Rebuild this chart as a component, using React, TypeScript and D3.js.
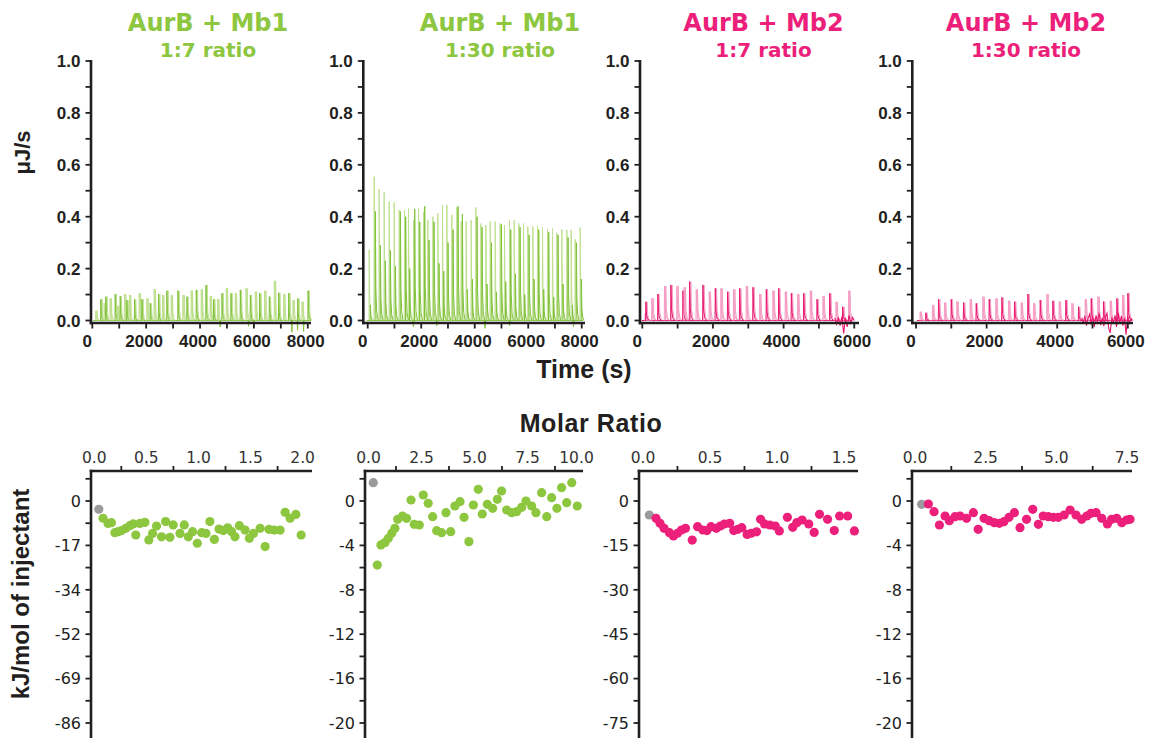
import React from 'react';
import * as d3 from 'd3';

// ---------------- colours ----------------
const GREEN = '#8dc63f';
const GREEN_LIGHT = '#bfe08f';
const GREEN_DARK = '#80c23a';
const PINK = '#ec1f7b';
const PINK_LIGHT = '#f59cc3';
const PINK_DARK = '#e8176f';
const GRAY = '#9a9a9c';
const INK = '#231f20';

// ---------------- titles ----------------
const panelTitles = ['AurB + Mb1', 'AurB + Mb1', 'AurB + Mb2', 'AurB + Mb2'];
const panelRatios = ['1:7 ratio', '1:30 ratio', '1:7 ratio', '1:30 ratio'];

// ---------------- top row: thermograms (time s, µJ/s) ----------------
const mb1r7Times = [125, 311, 435, 497, 658, 844, 930, 1030, 1190, 1277, 1376, 1562, 1736, 1835, 2021, 2145, 2293, 2454, 2603, 2764, 2925, 3173, 3359, 3508, 3669, 3855, 4040, 4214, 4375, 4499, 4648, 4809, 4970, 5143, 5304, 5490, 5701, 5862, 6048, 6209, 6394, 6568, 6754, 6915, 7101, 7287, 7448, 7621, 7782, 8005];
const mb1r7Peaks = [0.038, 0.082, 0.066, 0.092, 0.085, 0.102, 0.056, 0.094, 0.102, 0.079, 0.098, 0.082, 0.105, 0.082, 0.085, 0.066, 0.120, 0.102, 0.098, 0.115, 0.098, 0.115, 0.098, 0.092, 0.115, 0.118, 0.120, 0.137, 0.094, 0.082, 0.082, 0.105, 0.124, 0.105, 0.105, 0.118, 0.124, 0.098, 0.111, 0.105, 0.115, 0.092, 0.153, 0.107, 0.102, 0.105, 0.079, 0.085, 0.072, 0.115];
const mb1r7DipTimes = [4750, 5800, 5990, 7410, 7620, 7845];
const mb1r7Dips = [-0.025, -0.022, -0.025, -0.045, -0.038, -0.042];

const mb1r30Times = [49, 235, 422, 609, 796, 983, 1170, 1369, 1519, 1706, 1893, 2080, 2242, 2429, 2615, 2790, 2952, 3139, 3326, 3488, 3674, 3861, 4036, 4223, 4410, 4572, 4759, 4945, 5107, 5294, 5469, 5643, 5818, 5980, 6167, 6341, 6528, 6715, 6901, 7064, 7251, 7438, 7600, 7749, 7936];
const mb1r30Peaks = [0.272, 0.554, 0.507, 0.494, 0.458, 0.455, 0.426, 0.426, 0.432, 0.387, 0.432, 0.419, 0.387, 0.400, 0.413, 0.445, 0.445, 0.407, 0.436, 0.383, 0.383, 0.387, 0.436, 0.374, 0.368, 0.383, 0.381, 0.374, 0.368, 0.387, 0.387, 0.374, 0.374, 0.362, 0.362, 0.364, 0.359, 0.351, 0.355, 0.338, 0.351, 0.349, 0.349, 0.313, 0.358];
const mb1r30DarkPeaks = [0.06, 0.42, 0.29, 0.23, 0.27, 0.21, 0.42, 0.40, 0.20, 0.43, 0.38, 0.44, 0.31, 0.38, 0.22, 0.19, 0.30, 0.35, 0.44, 0.41, 0.12, 0.16, 0.40, 0.36, 0.14, 0.30, 0.11, 0.37, 0.15, 0.35, 0.18, 0.36, 0.10, 0.33, 0.16, 0.35, 0.12, 0.34, 0.09, 0.33, 0.14, 0.32, 0.06, 0.30, 0.16];
const mb1r30DipTimes = [1706, 2580, 4385, 5300, 7690];
const mb1r30Dips = [-0.024, -0.02, -0.03, -0.02, -0.024];

const mb2r7Times = [76, 95, 265, 435, 624, 804, 974, 1144, 1181, 1332, 1521, 1710, 1890, 2060, 2220, 2409, 2579, 2749, 2938, 3127, 3316, 3504, 3693, 3854, 4043, 4213, 4392, 4562, 4751, 4940, 5110, 5299, 5478, 5667, 5837];
const mb2r7Peaks = [0.028, 0.072, 0.086, 0.102, 0.133, 0.137, 0.133, 0.115, 0.128, 0.150, 0.120, 0.137, 0.111, 0.124, 0.124, 0.111, 0.120, 0.124, 0.133, 0.128, 0.102, 0.120, 0.115, 0.124, 0.111, 0.105, 0.102, 0.105, 0.115, 0.082, 0.094, 0.105, 0.072, 0.053, 0.115];
const mb2r7NoiseTimes = [5450, 5500, 5550, 5600, 5650, 5700, 5750, 5800, 5850, 5900, 5950, 6000];
const mb2r7Noise = [0.01, -0.015, 0.012, -0.02, 0.015, -0.05, 0.01, -0.025, 0.02, -0.01, 0.012, 0.0];

const mb2r30Times = [113, 274, 463, 633, 803, 992, 1152, 1341, 1530, 1700, 1889, 2068, 2257, 2427, 2616, 2786, 2975, 3164, 3324, 3513, 3702, 3872, 4051, 4240, 4410, 4599, 4788, 4958, 5147, 5307, 5496, 5685, 5845, 5997];
const mb2r30Peaks = [0.034, 0.030, 0.060, 0.082, 0.069, 0.082, 0.073, 0.069, 0.082, 0.066, 0.092, 0.082, 0.085, 0.089, 0.076, 0.073, 0.069, 0.102, 0.066, 0.079, 0.102, 0.076, 0.073, 0.079, 0.066, 0.053, 0.082, 0.085, 0.092, 0.073, 0.076, 0.085, 0.098, 0.105];
const mb2r30NoiseTimes = [4700, 4740, 4780, 4830, 4870, 4920, 4960, 5010, 5050, 5100, 5140, 5190, 5230, 5280, 5320, 5370, 5410, 5460, 5500, 5550, 5590, 5640, 5680, 5730, 5770, 5820, 5860, 5910, 5950, 6000, 6040, 6090, 6130];
const mb2r30Noise = [0.01, -0.012, 0.018, -0.02, 0.008, 0.025, -0.015, 0.012, -0.025, 0.02, -0.008, 0.03, -0.018, 0.01, -0.022, 0.015, 0.028, -0.03, -0.048, 0.012, -0.01, 0.02, -0.025, 0.03, -0.012, 0.018, -0.02, 0.01, -0.055, 0.015, -0.01, 0.008, 0.0];

// ---------------- bottom row: integrated heats (molar ratio, kJ/mol) ----------------
// first point of each series is the discarded (grey) injection
const mb1r7Ratio = [0.034, 0.075, 0.123, 0.155, 0.188, 0.22, 0.252, 0.293, 0.332, 0.364, 0.389, 0.428, 0.476, 0.514, 0.55, 0.588, 0.636, 0.675, 0.716, 0.748, 0.813, 0.854, 0.893, 0.934, 0.979, 1.021, 1.063, 1.10, 1.143, 1.188, 1.229, 1.271, 1.309, 1.341, 1.383, 1.438, 1.479, 1.518, 1.582, 1.63, 1.667, 1.716, 1.774, 1.822, 1.87, 1.925, 1.976];
const mb1r7Heat = [-3.2, -6.7, -8.7, -8.4, -12.3, -11.9, -11.5, -10.6, -9.6, -8.9, -13.2, -8.7, -8.3, -15.1, -12.6, -9.7, -13.9, -8.0, -14.1, -9.3, -12.6, -9.3, -13.9, -11.9, -16.4, -12.3, -12.6, -8.0, -14.9, -10.9, -11.5, -10.4, -11.9, -13.9, -9.6, -11.3, -14.5, -12.6, -10.6, -17.7, -11.0, -11.3, -11.3, -4.4, -6.7, -5.2, -13.2];

const mb1r30Ratio = [0.18, 0.37, 0.54, 0.73, 0.89, 1.05, 1.20, 1.33, 1.56, 1.75, 1.96, 2.11, 2.35, 2.54, 2.77, 2.98, 3.17, 3.40, 3.61, 3.83, 4.03, 4.27, 4.46, 4.69, 4.90, 5.13, 5.32, 5.56, 5.81, 6.03, 6.23, 6.47, 6.71, 6.94, 7.18, 7.38, 7.65, 7.85, 8.12, 8.36, 8.59, 8.84, 9.06, 9.30, 9.54, 9.80];
const mb1r30Heat = [1.65, -5.77, -3.96, -3.75, -3.36, -2.91, -2.46, -1.65, -1.35, -1.56, 0.09, -2.10, -2.16, 0.54, -0.21, -1.41, -2.67, -2.85, -1.05, -2.76, -0.45, -0.06, -1.47, -3.66, -0.36, 1.05, -1.17, -0.30, -0.66, 0.15, 0.90, -0.81, -1.05, -0.96, -0.57, 0.0, -0.45, -1.05, 0.75, -1.41, 0.30, -0.66, 1.20, -0.15, 1.65, -0.45];

const mb2r7Ratio = [0.04, 0.09, 0.12, 0.15, 0.19, 0.22, 0.25, 0.28, 0.31, 0.36, 0.40, 0.44, 0.47, 0.50, 0.54, 0.57, 0.60, 0.64, 0.67, 0.70, 0.73, 0.77, 0.80, 0.84, 0.87, 0.90, 0.94, 0.98, 1.01, 1.07, 1.11, 1.14, 1.18, 1.23, 1.27, 1.31, 1.37, 1.42, 1.46, 1.52, 1.57];
const mb2r7Heat = [-4.73, -5.86, -7.54, -9.23, -10.7, -11.8, -10.9, -9.80, -9.23, -13.2, -8.67, -9.80, -10.0, -8.67, -9.23, -8.45, -7.77, -7.54, -10.0, -9.57, -9.01, -11.3, -10.9, -10.4, -6.19, -7.77, -8.11, -8.45, -10.1, -5.52, -8.89, -7.32, -6.42, -7.77, -10.6, -4.50, -6.19, -10.0, -5.07, -5.07, -10.1];

const mb2r30Ratio = [0.20, 0.44, 0.64, 0.83, 1.03, 1.18, 1.38, 1.56, 1.79, 2.03, 2.20, 2.41, 2.59, 2.77, 2.95, 3.11, 3.29, 3.48, 3.68, 3.91, 4.13, 4.33, 4.50, 4.68, 4.86, 5.03, 5.24, 5.45, 5.66, 5.86, 6.04, 6.19, 6.37, 6.57, 6.77, 6.92, 7.10, 7.28, 7.45, 7.57];
const mb2r30Heat = [-0.30, -0.27, -0.96, -2.16, -1.35, -1.77, -1.41, -1.35, -1.56, -1.05, -2.55, -1.56, -1.77, -1.95, -2.01, -1.86, -1.47, -1.05, -2.40, -1.65, -0.75, -2.10, -1.35, -1.41, -1.47, -1.47, -1.26, -0.81, -1.26, -1.65, -1.35, -1.11, -1.05, -1.56, -2.07, -1.65, -1.56, -1.95, -1.71, -1.65];

// ---------------- tick values ----------------
const topYTicks = [0, 0.2, 0.4, 0.6, 0.8, 1.0];
const topTimeMax = [8000, 8000, 6000, 6000];
const bottomXTicks = [[0, 0.5, 1, 1.5, 2], [0, 2.5, 5, 7.5, 10], [0, 0.5, 1, 1.5], [0, 2.5, 5, 7.5]];
const bottomYStep = [17.24, 4, 15, 4];

// ---------------- layout ----------------
const W = 1151, H = 738;
const TOP_Y0 = 323, TOP_Y1 = 61;
const BOT_AXIS_Y = 471, BOT_ZERO_Y = 501, BOT_STEP_PX = 44.4;

const cols = [
  { axisX: 91, topEnd: 311, tDom: [-48, 8120], botAxisX: 91, botEnd: 312, rDom: [-0.041, 2.08], titleX: 208 },
  { axisX: 363.3, topEnd: 585, tDom: [-165, 8122], botAxisX: 365, botEnd: 583, rDom: [-0.21, 10.07], titleX: 500 },
  { axisX: 640, topEnd: 859, tDom: [-65, 6134], botAxisX: 639, botEnd: 858, rDom: [-0.037, 1.597], titleX: 763.5 },
  { axisX: 912.3, topEnd: 1133, tDom: [-105, 6147], botAxisX: 912, botEnd: 1132, rDom: [-0.14, 7.64], titleX: 1026 },
];

const traces = [
  { times: mb1r7Times, peaks: mb1r7Peaks, dark: null as number[] | null, dipT: mb1r7DipTimes, dipV: mb1r7Dips, noiseT: [] as number[], noiseV: [] as number[], light: GREEN_LIGHT, darkC: GREEN_DARK },
  { times: mb1r30Times, peaks: mb1r30Peaks, dark: mb1r30DarkPeaks, dipT: mb1r30DipTimes, dipV: mb1r30Dips, noiseT: [] as number[], noiseV: [] as number[], light: GREEN_LIGHT, darkC: GREEN_DARK },
  { times: mb2r7Times, peaks: mb2r7Peaks, dark: null, dipT: [] as number[], dipV: [] as number[], noiseT: mb2r7NoiseTimes, noiseV: mb2r7Noise, light: PINK_LIGHT, darkC: PINK_DARK },
  { times: mb2r30Times, peaks: mb2r30Peaks, dark: null, dipT: [] as number[], dipV: [] as number[], noiseT: mb2r30NoiseTimes, noiseV: mb2r30Noise, light: PINK_LIGHT, darkC: PINK_DARK },
];

const heats = [
  { x: mb1r7Ratio, y: mb1r7Heat, color: GREEN },
  { x: mb1r30Ratio, y: mb1r30Heat, color: GREEN },
  { x: mb2r7Ratio, y: mb2r7Heat, color: PINK },
  { x: mb2r30Ratio, y: mb2r30Heat, color: PINK },
];
const titleColors = [GREEN, GREEN, PINK, PINK];

const F_ARIAL = "'Liberation Sans', Arial, Helvetica, sans-serif";
const F_WIDE = "'DejaVu Sans', Verdana, sans-serif";

const line = d3.line<[number, number]>();

function TopPanel({ i }: { i: number }) {
  const c = cols[i];
  const tr = traces[i];
  const x = d3.scaleLinear().domain(c.tDom).range([c.axisX, c.topEnd]);
  const y = d3.scaleLinear().domain([-0.0096, 1]).range([TOP_Y0, TOP_Y1]);
  const spike = (t: number, h: number) =>
    line(([[t - 2, 0], [t + 6, h], [t + 25, h * 0.3], [t + 55, h * 0.08], [t + 110, 0]] as [number, number][]).map(([a, b]) => [x(a), y(b)] as [number, number]));
  const start = tr.times[0] - 90;
  const end = tr.times[tr.times.length - 1] + 110;
  const minorY = d3.range(0, 1.0001, 0.1);
  const xTicks = d3.range(0, topTimeMax[i] + 1, 1000);
  const pxPerSec = (c.topEnd - c.axisX) / (c.tDom[1] - c.tDom[0]);
  const shadowDt = 1.2 / pxPerSec;
  return (
    <g>
      {/* baseline */}
      <path d={line([[x(start), y(0)], [x(end), y(0)]]) || ''} stroke={tr.darkC} strokeWidth={1} fill="none" />
      {/* light companion lines (single-trace panels) */}
      {!tr.dark && tr.times.map((t, k) => (
        <path key={'l' + k} d={spike(t + shadowDt, tr.peaks[k]) || ''} fill="none" strokeWidth={1} stroke={tr.light} />
      ))}
      {/* main spikes */}
      {tr.times.map((t, k) => (
        <path key={'s' + k} d={spike(t, tr.peaks[k]) || ''} fill="none" strokeWidth={1}
          stroke={tr.dark ? tr.light : (k % 2 === 0 ? tr.light : tr.darkC)} />
      ))}
      {tr.dark && tr.times.map((t, k) => (
        <path key={'d' + k} d={spike(t + 45, tr.dark![k]) || ''} fill="none" strokeWidth={1} stroke={tr.darkC} />
      ))}
      {tr.dipT.map((t, k) => (
        <path key={'p' + k} d={line([[x(t - 15), y(0)], [x(t), y(tr.dipV[k])], [x(t + 20), y(0)]]) || ''} fill="none" strokeWidth={1} stroke={tr.darkC} />
      ))}
      {tr.noiseT.length > 0 && (
        <path d={line(tr.noiseT.map((t, k) => [x(t), y(tr.noiseV[k])] as [number, number])) || ''} fill="none" strokeWidth={1.1} stroke={tr.darkC} />
      )}
      {/* axes */}
      <line x1={c.axisX} x2={c.axisX} y1={TOP_Y1 - 1} y2={TOP_Y0 + 1.3} stroke={INK} strokeWidth={2.6} />
      <line x1={c.axisX - 1.3} x2={c.topEnd} y1={TOP_Y0} y2={TOP_Y0} stroke={INK} strokeWidth={2.6} />
      {minorY.map((v) => (
        <line key={'yt' + v} x1={c.axisX} x2={c.axisX - 5.5} y1={y(v)} y2={y(v)} stroke={INK} strokeWidth={1.8} />
      ))}
      {topYTicks.map((v) => (
        <text key={'yl' + v} x={c.axisX - 10.5} y={y(v)} dy="0.36em" textAnchor="end" fontFamily={F_ARIAL} fontWeight="bold" fontSize={17} fill={INK}>{d3.format('.1f')(v)}</text>
      ))}
      {xTicks.map((t) => (
        <line key={'xt' + t} x1={x(t)} x2={x(t)} y1={TOP_Y0} y2={TOP_Y0 + 5.5} stroke={INK} strokeWidth={1.8} />
      ))}
      {xTicks.filter((t) => t % 2000 === 0).map((t) => (
        <text key={'xl' + t} x={x(t) - (t === 0 ? 5 : 2)} y={347} textAnchor="middle" fontFamily={F_ARIAL} fontWeight="bold" fontSize={17} fill={INK}>{t}</text>
      ))}
      {/* title */}
      <text x={c.titleX} y={31} textAnchor="middle" fontFamily={F_WIDE} fontWeight="bold" fontSize={24} fill={titleColors[i]}>{panelTitles[i]}</text>
      <text x={c.titleX} y={57} textAnchor="middle" fontFamily={F_WIDE} fontWeight="bold" fontSize={20} fill={titleColors[i]}>{panelRatios[i]}</text>
    </g>
  );
}

function BottomPanel({ i }: { i: number }) {
  const c = cols[i];
  const s = bottomYStep[i];
  const hd = heats[i];
  const x = d3.scaleLinear().domain(c.rDom).range([c.botAxisX, c.botEnd]);
  const yTop = ((BOT_ZERO_Y - BOT_AXIS_Y) / BOT_STEP_PX) * s;
  const yBot = -((H + 4 - BOT_ZERO_Y) / BOT_STEP_PX) * s;
  const y = d3.scaleLinear().domain([yBot, yTop]).range([H + 4, BOT_AXIS_Y]);
  const xt = bottomXTicks[i];
  const half = (xt[1] - xt[0]) / 2;
  const minorX = xt.map((v) => v + half).filter((v) => x(v) < c.botEnd - 2);
  const yMajor = d3.range(0, 6).map((k) => -k * s);
  const yMinor = d3.range(-11, 2).map((k) => (k * s) / 2).filter((v) => y(v) > BOT_AXIS_Y + 3 && y(v) < H);
  return (
    <g>
      <line x1={c.botAxisX - 1.3} x2={c.botEnd} y1={BOT_AXIS_Y} y2={BOT_AXIS_Y} stroke={INK} strokeWidth={2.6} />
      <line x1={c.botAxisX} x2={c.botAxisX} y1={BOT_AXIS_Y - 1.3} y2={H + 4} stroke={INK} strokeWidth={2.6} />
      {minorX.map((v) => (
        <line key={'mx' + v} x1={x(v)} x2={x(v)} y1={BOT_AXIS_Y} y2={BOT_AXIS_Y - 5} stroke={INK} strokeWidth={1.8} />
      ))}
      {xt.map((v) => (
        <text key={'xl' + v} x={x(v) - (v >= 10 ? 5 : 1)} y={463} textAnchor="middle" fontFamily={F_WIDE} fontSize={15.5} fill="#333">{d3.format('.1f')(v)}</text>
      ))}
      {yMinor.map((v) => (
        <line key={'my' + v} x1={c.botAxisX} x2={c.botAxisX - 5.5} y1={y(v)} y2={y(v)} stroke={INK} strokeWidth={1.8} />
      ))}
      {yMajor.map((v) => (
        <text key={'yl' + v} x={c.botAxisX - 10} y={y(v)} dy="0.36em" textAnchor="end" fontFamily={F_WIDE} fontSize={16} fill="#222">{Math.round(v) === 0 ? '0' : Math.round(v)}</text>
      ))}
      {hd.x.map((xv, k) => (
        <circle key={'c' + k} cx={x(xv)} cy={y(hd.y[k])} r={4.6} fill={k === 0 ? GRAY : hd.color} />
      ))}
    </g>
  );
}

export default function App() {
  return (
    <svg width={W} height={H} viewBox={`0 0 ${W} ${H}`} style={{ position: 'absolute', left: 0, top: 0, display: 'block', background: '#fff' }}>
      <rect x={0} y={0} width={W} height={H} fill="#fff" />
      {[0, 1, 2, 3].map((i) => <TopPanel key={'t' + i} i={i} />)}
      {[0, 1, 2, 3].map((i) => <BottomPanel key={'b' + i} i={i} />)}
      <text transform="translate(30,152.5) rotate(-90)" textAnchor="middle" fontFamily={F_ARIAL} fontWeight="bold" fontSize={22} fill={INK}>μJ/s</text>
      <text x={584} y={378} textAnchor="middle" fontFamily={F_ARIAL} fontWeight="bold" fontSize={25} fill={INK}>Time (s)</text>
      <text x={591} y={432} textAnchor="middle" fontFamily={F_ARIAL} fontWeight="bold" fontSize={25} letterSpacing={0.6} fill={INK}>Molar Ratio</text>
      <text transform="translate(28.5,594) rotate(-90)" textAnchor="middle" fontFamily={F_ARIAL} fontWeight="bold" fontSize={24} fill={INK}>kJ/mol of injectant</text>
    </svg>
  );
}
